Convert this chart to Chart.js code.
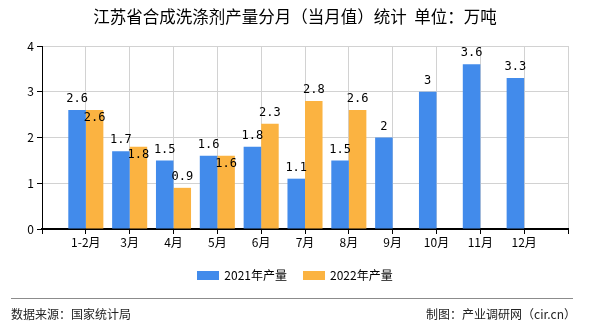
<!DOCTYPE html>
<html>
<head>
<meta charset="utf-8">
<script src="https://cdn.jsdelivr.net/npm/chart.js@4.4.0/dist/chart.umd.min.js"></script>
<style>
  body { margin: 0; background: #fff; font-family: "Noto Sans CJK SC", sans-serif; }
  #wrap { position: relative; width: 590px; height: 330px; overflow: hidden; }
  #chart { position: absolute; left: 0; top: 0; }
  #title { position: absolute; top: 5px; left: 0; width: 590px; text-align: center; font-size: 16.5px; line-height: 22px; color: #000; }
  #legend { position: absolute; top: 266px; left: 0; width: 590px; display: flex; justify-content: center; font-size: 12px; line-height: 18px; color: #000; }
  #legend .item { display: flex; align-items: center; margin: 0 8px; }
  #legend .box { width: 22px; height: 9px; margin-right: 5px; }
  #line { position: absolute; left: 11px; top: 298px; width: 562px; height: 1px; background: #8c8c8c; }
  .foot { position: absolute; top: 305px; font-size: 12px; line-height: 18px; color: #222; }
  #src { left: 11px; }
  #by { right: 14px; }
</style>
</head>
<body>
<div id="wrap">
  <canvas id="chart" width="590" height="330"></canvas>
  <div id="title">江苏省合成洗涤剂产量分月（当月值）统计&nbsp;&nbsp;单位：万吨</div>
  <div id="legend"></div>
  <div id="line"></div>
  <div class="foot" id="src">数据来源：国家统计局</div>
  <div class="foot" id="by">制图：产业调研网（cir.cn）</div>
</div>
<script>
const categories = ["1-2月", "3月", "4月", "5月", "6月", "7月", "8月", "9月", "10月", "11月", "12月"];
const names = ["2021年产量", "2022年产量"];
const colors = ["#428beb", "#fbb341"];
const values2021 = [2.6, 1.7, 1.5, 1.6, 1.8, 1.1, 1.5, 2, 3, 3.6, 3.3];
const values2022 = [2.6, 1.8, 0.9, 1.6, 2.3, 2.8, 2.6, null, null, null, null];
const yTicks = [0, 1, 2, 3, 4];

const FONT = '"Noto Sans CJK SC", sans-serif';

// empty slot on each side so the month ticks sit on gridlines
const labels = [""].concat(categories, [""]);
const pad = arr => [null].concat(arr, [null]);

const legend = document.getElementById("legend");
names.forEach((n, i) => {
  const item = document.createElement("div");
  item.className = "item";
  item.innerHTML = `<span class="box" style="background:${colors[i]}"></span>${n}`;
  legend.appendChild(item);
});

const barLabels = {
  id: "barLabels",
  afterDatasetsDraw(chart) {
    const ctx = chart.ctx;
    ctx.save();
    ctx.font = '12px "DejaVu Sans Mono"';
    ctx.textAlign = "center";
    ctx.textBaseline = "middle";
    ctx.fillStyle = "#000";
    const placed = [];
    chart.data.datasets.forEach((ds, di) => {
      const meta = chart.getDatasetMeta(di);
      meta.data.forEach((bar, i) => {
        const v = ds.data[i];
        if (v == null) return;
        const text = String(v);
        const w = ctx.measureText(text).width;
        let y = bar.y - 11;
        // push the label inside the bar if it would sit on top of the neighbour's label
        const hit = placed.some(r => Math.abs(r.x - bar.x) < (r.w + w) / 2 && Math.abs(r.y - y) < 12);
        if (hit) y = bar.y + 8;
        ctx.fillText(text, bar.x, y);
        placed.push({ x: bar.x, y, w });
      });
    });
    ctx.restore();
  }
};

new Chart(document.getElementById("chart").getContext("2d"), {
  type: "bar",
  data: {
    labels,
    datasets: [
      { label: names[0], data: pad(values2021), backgroundColor: colors[0] },
      { label: names[1], data: pad(values2022), backgroundColor: colors[1] }
    ]
  },
  options: {
    responsive: false,
    animation: false,
    events: [],
    categoryPercentage: 0.8,
    barPercentage: 1,
    layout: { padding: { left: 0, right: 22, top: 46, bottom: 81 } },
    plugins: { legend: { display: false }, tooltip: { enabled: false } },
    scales: {
      x: {
        offset: false,
        grid: { offset: false, color: "#d2d2d2", tickColor: "#000", tickLength: 5 },
        border: { color: "#000", width: 2 },
        ticks: { color: "#000", font: { family: FONT, size: 12 }, padding: 1, maxRotation: 0, autoSkip: false },
        afterFit: s => { s.height = 20; }
      },
      y: {
        min: yTicks[0],
        max: yTicks[yTicks.length - 1],
        afterBuildTicks: s => { s.ticks = yTicks.map(v => ({ value: v })); },
        grid: { color: "#d2d2d2", tickColor: "#000", tickLength: 5 },
        border: { color: "#000", width: 1 },
        ticks: { color: "#000", font: { family: FONT, size: 12 }, padding: 3 },
        afterFit: s => { s.width = 42; }
      }
    }
  },
  plugins: [barLabels]
});
</script>
</body>
</html>
